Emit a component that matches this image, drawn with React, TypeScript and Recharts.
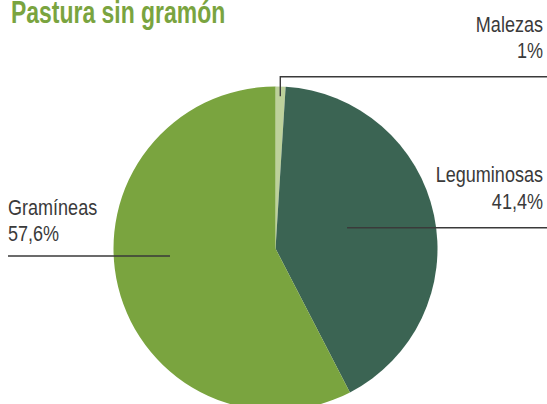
import { PieChart, Pie, Cell } from "recharts";

const categories = ["Malezas", "Leguminosas", "Gramíneas"];
const shares = [1, 41.4, 57.6];
const shareLabels = ["1%", "41,4%", "57,6%"];

const COLORS = ["#bdd19b", "#3b6453", "#7aa43f"];
// no narrow font installed: squeeze Liberation Sans horizontally
const FONT = "'Liberation Sans', Arial, sans-serif";
const SQUEEZE = 0.82;
const W = 547;
const H = 404;

// where each label's leader line starts inside the pie (angle in degrees, radius as share of R)
// and where its text sits
const labelLayout = [
  { angle: null as number | null, rFrac: 0.94, elbowY: 76.7, side: "right", textX: 543, y1: 31.7, y2: 58.3 },
  { angle: 16.2, rFrac: 0.46, elbowY: null, side: "right", textX: 543, y1: 182, y2: 209 },
  { angle: 184.1, rFrac: 0.653, elbowY: null, side: "left", textX: 8, y1: 215, y2: 241 },
];

const data = categories.map((name, i) => ({ name, value: shares[i], share: shareLabels[i] }));

const RAD = Math.PI / 180;

function NarrowText({ x, y, anchor, children }: { x: number; y: number; anchor: "start" | "end"; children: string }) {
  return (
    <text
      transform={`translate(${x},${y}) scale(${SQUEEZE},1)`}
      x={0}
      y={0}
      textAnchor={anchor}
      fontFamily={FONT}
      fontSize={22}
      fill="#3a3a3a"
    >
      {children}
    </text>
  );
}

function renderLabel(props: any) {
  const { cx, cy, outerRadius, midAngle, index } = props;
  const lay = labelLayout[index];
  const ang = lay.angle ?? midAngle;
  const r = outerRadius * lay.rFrac;
  const x0 = cx + r * Math.cos(ang * RAD);
  const y0 = cy - r * Math.sin(ang * RAD);
  const right = lay.side === "right";
  const path =
    lay.elbowY != null
      ? `M${x0},${y0} L${x0},${lay.elbowY} L${W},${lay.elbowY}`
      : `M${x0},${y0} L${right ? W : lay.textX},${y0}`;
  const anchor = right ? "end" : "start";
  return (
    <g key={`lbl-${index}`}>
      <path d={path} stroke="#3a3a3a" strokeWidth={1.4} fill="none" />
      <NarrowText x={lay.textX} y={lay.y1} anchor={anchor}>
        {categories[index]}
      </NarrowText>
      <NarrowText x={lay.textX} y={lay.y2} anchor={anchor}>
        {shareLabels[index]}
      </NarrowText>
    </g>
  );
}

export default function App() {
  return (
    <div style={{ position: "absolute", left: 0, top: 0, width: W, height: H, overflow: "hidden", background: "#fff" }}>
      <div
        style={{
          position: "absolute",
          left: 11,
          top: -3,
          fontFamily: FONT,
          fontWeight: 700,
          fontSize: 31,
          lineHeight: 1,
          color: "#7aa43f",
          whiteSpace: "nowrap",
          transform: "scaleX(0.74)",
          transformOrigin: "left top",
        }}
      >
        Pastura sin gramón
      </div>
      <PieChart width={W} height={H} margin={{ top: 0, right: 0, bottom: 0, left: 0 }} style={{ position: "absolute", left: 0, top: 0 }}>
        <Pie
          data={data}
          dataKey="value"
          nameKey="name"
          cx={275.5}
          cy={248.5}
          innerRadius={0}
          outerRadius={162}
          startAngle={90}
          endAngle={-270}
          stroke="none"
          label={renderLabel}
          labelLine={false}
          isAnimationActive={false}
        >
          {data.map((d, i) => (
            <Cell key={d.name} fill={COLORS[i]} />
          ))}
        </Pie>
      </PieChart>
    </div>
  );
}
